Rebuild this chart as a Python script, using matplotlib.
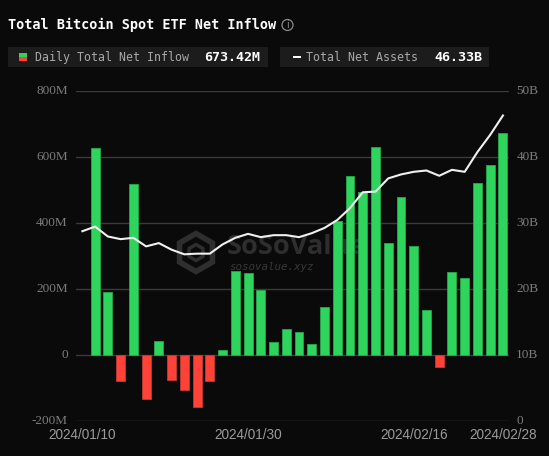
import matplotlib
matplotlib.use("Agg")
import matplotlib.pyplot as plt
from matplotlib.patches import Rectangle, Polygon, Circle
from matplotlib.transforms import ScaledTranslation
import numpy as np

W, H = 549, 456

tick_dates = ["2024/01/10", "2024/01/30", "2024/02/16", "2024/02/28"]
tick_positions = [-1, 12, 25, 32]

# Daily net flow in millions of USD, one value per trading day
net_inflow = [629, 192, -79, 518, -133, 43, -76, -104, -158, -78, 16,
              255, 248, 198, 40, 81, 70, 34, 147, 406, 542, 494, 632,
              340, 479, 332, 137, -35, 253, 233, 521, 578, 673.42]

# Total net assets in billions of USD; the series starts one day before the flows
asset_days = list(range(-1, 33))
net_assets = [28.8, 29.5, 28.0, 27.6, 27.8, 26.5, 27.0, 26.0, 25.3, 25.4, 25.4,
              26.8, 27.8, 28.4, 27.9, 28.2, 28.2, 27.9, 28.5, 29.3, 30.5, 32.3,
              34.7, 34.8, 36.8, 37.4, 37.8, 38.0, 37.2, 38.1, 37.8, 40.8, 43.4, 46.33]

left_ticks = [-200, 0, 200, 400, 600, 800]
left_labels = ["-200M", "0", "200M", "400M", "600M", "800M"]
right_ticks = [0, 10, 20, 30, 40, 50]
right_labels = ["0", "10B", "20B", "30B", "40B", "50B"]

BG = "#0a0a0a"
GREEN = "#2fd45c"
GREEN_EDGE = "#25a84a"
RED = "#ff4238"
RED_EDGE = "#c03a34"
GRID = "#3a3a3a"
TICK = "#7c7c7f"
DATE = "#9a9a9a"
MARK = "#2e2e2e"
MONO = ["DejaVu Sans Mono"]

fig = plt.figure(figsize=((W + 0.01) / 100, (H + 0.01) / 100), dpi=100, facecolor=BG)

# Pixel-coordinate layer underneath the plot for the watermark
back = fig.add_axes([0, 0, 1, 1], zorder=0)
back.set_xlim(0, W)
back.set_ylim(H, 0)
back.axis("off")

# Pixel-coordinate layer on top for the header
ov = fig.add_axes([0, 0, 1, 1], zorder=3)
ov.set_xlim(0, W)
ov.set_ylim(H, 0)
ov.axis("off")
ov.patch.set_alpha(0)

ax = fig.add_axes([76 / W, 1 - 421.3 / H, 433.3 / W, 330 / H], zorder=1)
ax.patch.set_alpha(0)
ax.set_xlim(-1.5, 32.5)
ax.set_ylim(-200, 800)
ax.set_yticks(left_ticks, left_labels)
ax.set_xticks(tick_positions, tick_dates)
ax.grid(axis="y", color=GRID, lw=1)
ax.set_axisbelow(True)
for s in ax.spines.values():
    s.set_visible(False)
ax.tick_params(axis="y", length=0, pad=6, labelcolor=TICK)
ax.tick_params(axis="x", length=0, pad=5, labelcolor=DATE)
lift = ScaledTranslation(0, 1.2 / 72, fig.dpi_scale_trans)
for lab in ax.get_yticklabels():
    lab.set_family("Liberation Serif")
    lab.set_fontsize(9.5)
    lab.set_transform(lab.get_transform() + lift)
for lab in ax.get_xticklabels():
    lab.set_family("Liberation Sans")
    lab.set_fontsize(9.8)

colors = [GREEN if v >= 0 else RED for v in net_inflow]
edges = [GREEN_EDGE if v >= 0 else RED_EDGE for v in net_inflow]
ax.bar(range(len(net_inflow)), net_inflow, width=0.7, color=colors,
       edgecolor=edges, linewidth=0.6, zorder=2)

ax2 = ax.twinx()
ax2.patch.set_alpha(0)
ax2.set_ylim(0, 50)
ax2.set_yticks(right_ticks, right_labels)
for s in ax2.spines.values():
    s.set_visible(False)
ax2.tick_params(axis="y", length=0, pad=5, labelcolor=TICK)
for lab in ax2.get_yticklabels():
    lab.set_family("Liberation Serif")
    lab.set_fontsize(9.5)
    lab.set_transform(lab.get_transform() + lift)
ax2.plot(asset_days, net_assets, color="#f0f0f0", lw=1.5, zorder=5)

# Watermark logo and wordmark
hex_t = np.linspace(np.pi / 2, 2.5 * np.pi, 7)[:-1]
cx, cy = 196, 252.5
back.add_patch(Polygon(np.c_[cx + 19 * np.cos(hex_t), cy + 19 * np.sin(hex_t)],
                       closed=True, fill=False, ec=MARK, lw=4))
back.add_patch(Polygon(np.c_[cx + 8 * np.cos(hex_t), cy + 8 * np.sin(hex_t)],
                       closed=True, fill=False, ec=MARK, lw=2.5))
back.text(227, 247, "SoSoValue", color=MARK, fontsize=19.5, fontweight="bold",
          family="Open Sans", va="center", ha="left")
back.text(229, 267, "sosovalue.xyz", color="#383838", fontsize=7.8, style="italic",
          family="DejaVu Sans Mono", va="center", ha="left")

# Header
ov.text(8, 25, "Total Bitcoin Spot ETF Net Inflow", color="white", fontsize=9.75,
        fontweight="bold", family=MONO, va="center", ha="left")
ov.add_patch(Circle((287.5, 25), 5.5, fill=False, ec="#8a8a8a", lw=0.9))
ov.text(287.5, 25, "i", color="#8a8a8a", fontsize=7, ha="center", va="center")

ov.add_patch(Rectangle((8, 47), 260, 20, fc="#1c1c1c", ec="none"))
ov.add_patch(Rectangle((280, 47), 209, 20, fc="#1c1c1c", ec="none"))
ov.add_patch(Rectangle((19, 53), 8, 4, fc=GREEN, ec="none"))
ov.add_patch(Rectangle((19, 57), 8, 4, fc=RED, ec="none"))
ov.add_patch(Rectangle((293, 56), 8, 2, fc="white", ec="none"))
ov.text(35, 57, "Daily Total Net Inflow", color="#a8a8a8", fontsize=8.35,
        family=MONO, va="center", ha="left")
ov.text(204, 57, "673.42M", color="white", fontsize=9.6, fontweight="bold",
        family=MONO, va="center", ha="left")
ov.text(306, 57, "Total Net Assets", color="#a8a8a8", fontsize=8.35,
        family=MONO, va="center", ha="left")
ov.text(434, 57, "46.33B", color="white", fontsize=9.6, fontweight="bold",
        family=MONO, va="center", ha="left")

fig.savefig("out.png", dpi=100, facecolor=BG)
